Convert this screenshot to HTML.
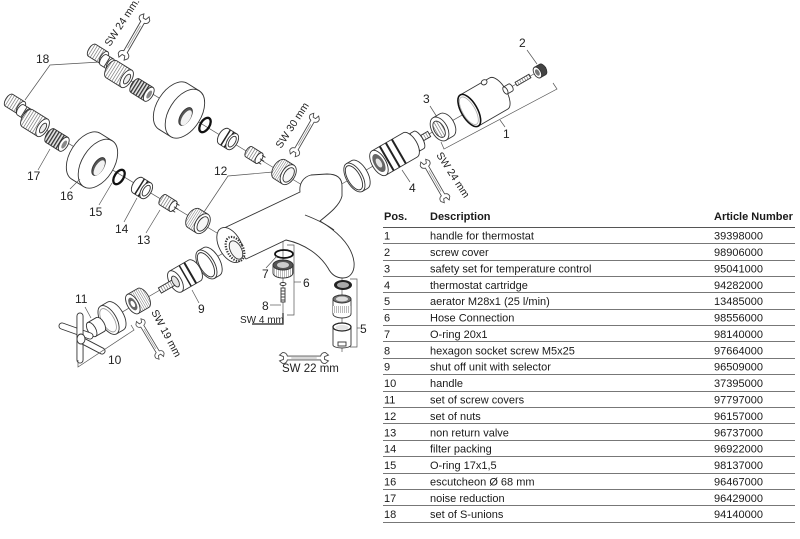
<!DOCTYPE html>
<html><head><meta charset="utf-8"><style>
html,body{margin:0;padding:0;background:#fff;}
svg{display:block;}
.t{font-family:"Liberation Sans",Arial,sans-serif;font-size:11px;fill:#1a1a1a;}
.h{font-weight:bold;}
.n{font-family:"Liberation Sans",Arial,sans-serif;font-size:12px;fill:#222;}
.sw{font-family:"Liberation Sans",Arial,sans-serif;font-size:10.5px;fill:#222;}
.ln{stroke:#555;stroke-width:0.7;fill:none;}
.p{stroke:#333;stroke-width:0.9;}
.rl{stroke:#777;stroke-width:1.1;}
.wr{fill:#fff;stroke:#444;stroke-width:0.9;}
</style></head><body>
<svg width="800" height="539" viewBox="0 0 800 539" xmlns="http://www.w3.org/2000/svg">
<defs>
<pattern id="thr" width="2.6" height="40" patternUnits="userSpaceOnUse"><rect width="2.6" height="40" fill="#fff"/><rect width="0.6" height="40" fill="#666"/></pattern>
<pattern id="cg" width="3" height="40" patternUnits="userSpaceOnUse"><rect width="3" height="40" fill="#e4e4e4"/><rect width="1.3" height="40" fill="#333"/></pattern>
<pattern id="kn" width="2" height="40" patternUnits="userSpaceOnUse"><rect width="2" height="40" fill="#fff"/><rect width="0.5" height="40" fill="#777"/></pattern>
<g id="suTop"><path class="p" d="M-7,-7H7V7H-7A3.5,7 0 0 1 -7,-7Z" fill="url(#thr)"/><ellipse class="p" cx="7" rx="3.5" ry="7" fill="#fff"/></g>
<g id="suHex"><path class="p" d="M-4,-6H4V6H-4A3,6 0 0 1 -4,-6Z" fill="#fff"/><line class="p" x1="0" y1="-6" x2="0" y2="6"/><ellipse class="p" cx="4" rx="3" ry="6" fill="#fff"/></g>
<g id="suLow"><path class="p" d="M-9,-10H9V10H-9A5,10 0 0 1 -9,-10Z" fill="url(#thr)"/><ellipse class="p" cx="9" rx="5" ry="10" fill="#fff"/><ellipse class="p" cx="9.5" rx="2.5" ry="5.5" fill="#eee"/></g>
<g id="cage"><path class="p" d="M-8,-8H8V8H-8A4,8 0 0 1 -8,-8Z" fill="url(#cg)"/><ellipse class="p" cx="8" rx="4" ry="8" fill="#fff"/><ellipse cx="8.5" rx="2" ry="4.5" fill="#888"/></g>
<g id="esc"><path class="p" d="M-7,-27H7V27H-7A16,27 0 0 1 -7,-27Z" fill="#fff"/><ellipse class="p" cx="7" rx="16" ry="27" fill="#fff"/><ellipse class="p" cx="9" cy="2" rx="5" ry="10" fill="#555"/><ellipse cx="10.3" cy="2.8" rx="3.9" ry="8.6" fill="#f2f2f2"/></g>
<g id="oring"><ellipse rx="4.5" ry="8" fill="none" stroke="#111" stroke-width="2.3"/></g>
<g id="filt"><path class="p" d="M-5,-9H5V9H-5A5,9 0 0 1 -5,-9Z" fill="#fff"/><rect x="-3.5" y="-9" width="1.5" height="18" fill="#222"/><rect x="0.5" y="-9" width="1.5" height="18" fill="#222"/><ellipse class="p" cx="5" rx="5" ry="9" fill="#fff"/><ellipse class="p" cx="5" rx="3" ry="6" fill="none"/></g>
<g id="valve"><path class="p" d="M-6,-6H6V6H-6A3,6 0 0 1 -6,-6Z" fill="url(#thr)"/><ellipse class="p" cx="6" rx="3" ry="6" fill="#fff"/><path class="p" d="M7,-4H11M7,0H12M7,4H11" fill="none"/></g>
<g id="nut"><path class="p" d="M-5,-11H5V11H-5A6.6,11 0 0 1 -5,-11Z" fill="url(#kn)"/><ellipse class="p" cx="5" rx="6.6" ry="11" fill="#fff"/><ellipse class="p" cx="5.5" rx="4.5" ry="8" fill="#f6f6f6"/></g>
<g id="ring"><path class="p" d="M-3,-16H3V16H-3A8,16 0 0 1 -3,-16Z" fill="#fff"/><ellipse class="p" cx="3" rx="8" ry="16" fill="#fff"/><ellipse class="p" cx="3.5" rx="6.2" ry="13.5" fill="#fff"/></g>
<g id="cart">
<rect class="p" x="-36" y="-3" width="13" height="6" fill="url(#thr)"/>
<path class="p" d="M-24,-10H-12V10H-24A4,10 0 0 1 -24,-10Z" fill="#fff"/>
<rect x="-20" y="-10" width="1.5" height="20" fill="#333"/>
<path class="p" d="M-14,-14H22V14H-14A7,14 0 0 1 -14,-14Z" fill="#fff"/>
<rect x="-2" y="-14" width="2" height="28" fill="#222"/>
<rect x="5" y="-14" width="2" height="28" fill="#222"/>
<rect x="12" y="-14" width="2" height="28" fill="#222"/>
<ellipse class="p" cx="22" rx="7" ry="14" fill="#fff"/>
<ellipse cx="22" rx="5" ry="10" fill="#666"/>
<ellipse cx="22" rx="2.5" ry="5" fill="#e4e4e4"/>
</g>
<g id="r3"><path class="p" d="M-4,-13H4V13H-4A7.8,13 0 0 1 -4,-13Z" fill="#fff"/><ellipse class="p" cx="4" rx="7.8" ry="13" fill="#fff"/><ellipse class="p" cx="4.5" rx="5" ry="9" fill="url(#thr)"/></g>
<g id="hdl"><path class="p" d="M-17,-18H17V18H-17A8,18 0 0 1 -17,-18Z" fill="#fff"/><ellipse class="p" cx="-10" cy="17" rx="3" ry="2.5" fill="#fff"/><ellipse cx="17" rx="8" ry="18" fill="#fff" stroke="#111" stroke-width="1.6"/><ellipse cx="17.5" rx="6.3" ry="15.5" fill="none" stroke="#aaa" stroke-width="0.8"/></g>
<g id="so">
<path class="p" d="M-11,-12H11V12H-11A6,12 0 0 1 -11,-12Z" fill="#fff"/>
<rect x="-7" y="-12" width="2" height="24" fill="#222"/>
<rect x="-1" y="-12" width="1.5" height="24" fill="#222"/>
<ellipse class="p" cx="11" rx="6" ry="12" fill="#fff"/>
<rect class="p" x="11" y="-3" width="18" height="6" fill="url(#thr)"/>
<ellipse class="p" cx="11" rx="3" ry="6" fill="#e4e4e4"/>
</g>
<g id="ad"><path class="p" d="M-6,-11H6V11H-6A5.5,11 0 0 1 -6,-11Z" fill="url(#kn)"/><ellipse class="p" cx="6" rx="5.5" ry="11" fill="#fff"/><ellipse cx="6" rx="3.5" ry="7" fill="#666"/><ellipse cx="6" rx="1.8" ry="3.5" fill="#fff"/></g>
<g id="cap"><path class="p" d="M-4,-16H4V16H-4A8,16 0 0 1 -4,-16Z" fill="#fff"/><ellipse class="p" cx="4" rx="8" ry="16" fill="#fff"/><ellipse cx="4.5" rx="6" ry="13" fill="none" stroke="#999" stroke-width="0.8"/></g>
<g id="neck"><path class="p" d="M-5,-8H5V8H-5A4,8 0 0 1 -5,-8Z" fill="#fff"/><ellipse class="p" cx="5" rx="4" ry="8" fill="#fff"/></g>
<g id="wrench"><path class="wr" d="M-17,-2H17Q18,-6 22,-5.5L25,-3L21,-1.5L21,1.5L25,3L22,5.5Q18,6 17,2H-17Q-18,6 -22,5.5L-25,3L-21,1.5L-21,-1.5L-25,-3L-22,-5.5Q-18,-6 -17,-2Z"/><line x1="-13" y1="0" x2="13" y2="0" stroke="#999" stroke-width="0.8"/></g>
</defs>

<!-- axis lines -->
<line class="ln" x1="100" y1="62" x2="302" y2="185"/>
<line class="ln" x1="18" y1="113" x2="222" y2="236"/>
<line class="ln" x1="340" y1="185" x2="546" y2="67"/>
<line class="ln" x1="100" y1="325" x2="232" y2="248"/>
<line class="ln" x1="283" y1="238" x2="283" y2="316"/>
<line class="ln" x1="342" y1="276" x2="342" y2="352"/>

<!-- body -->
<path class="p" fill="#fff" d="M222,229 L300,192 C299,184 303,177 311,175 L327,174 C337,174 342,178 342,186 L342,196 C340,205 330,213 320,221 C338,232 352,246 354,262 C355,272 350,278 343,278 C336,278 331,274 328,268 C320,255 305,244 286,240 L246,259 Z"/>
<path class="p" fill="none" d="M305,215 C318,220 326,224 334,230"/>
<ellipse class="p" cx="230" cy="245" rx="11" ry="19" transform="rotate(-28 230 245)" fill="#fff"/>
<ellipse cx="235" cy="249" rx="8" ry="13" transform="rotate(-28 235 249)" fill="#fff" stroke="#333" stroke-width="2.2" stroke-dasharray="1.3 1.3"/>
<ellipse class="p" cx="236" cy="250" rx="5.5" ry="10" transform="rotate(-28 236 250)" fill="#f6f6f6"/>

<!-- upper inlet row -->
<use href="#suTop" transform="translate(98,54) rotate(32)"/>
<use href="#suHex" transform="translate(107,62) rotate(32)"/>
<use href="#suLow" transform="translate(119,74) rotate(32)"/>
<use href="#cage" transform="translate(142,90) rotate(32)"/>
<use href="#esc" transform="translate(179,110) rotate(32)"/>
<use href="#oring" transform="translate(205,125) rotate(32)"/>
<use href="#filt" transform="translate(228,139) rotate(32)"/>
<use href="#valve" transform="translate(254,155) rotate(32)"/>
<use href="#nut" transform="translate(284,172) rotate(32)"/>

<!-- lower inlet row -->
<use href="#suTop" transform="translate(15,104) rotate(32)"/>
<use href="#suHex" transform="translate(24,112) rotate(32)"/>
<use href="#suLow" transform="translate(35,123) rotate(32)"/>
<use href="#cage" transform="translate(57,140) rotate(32)"/>
<use href="#esc" transform="translate(92,160) rotate(32)"/>
<use href="#oring" transform="translate(119,177) rotate(32)"/>
<use href="#filt" transform="translate(142,188) rotate(32)"/>
<use href="#valve" transform="translate(168,203) rotate(32)"/>
<use href="#nut" transform="translate(198,221) rotate(32)"/>

<!-- thermostat side -->
<use href="#ring" transform="translate(357,176) rotate(150)"/>
<use href="#cart" transform="translate(398,152) rotate(150)"/>
<use href="#r3" transform="translate(443,127) rotate(150)"/>
<use href="#hdl" transform="translate(484,102) rotate(150)"/>
<g transform="translate(508,89) rotate(150)"><path class="p" d="M-3,-4H3V4H-3A2,4 0 0 1 -3,-4Z" fill="#fff"/><ellipse class="p" cx="3" rx="2" ry="4" fill="#fff"/></g>
<g transform="translate(523,80) rotate(150)"><rect class="p" x="-8" y="-2" width="16" height="4" fill="url(#thr)"/></g>
<g transform="translate(540,71) rotate(150)"><path class="p" d="M-3,-6H3V6H-3A3.5,6 0 0 1 -3,-6Z" fill="#444"/><ellipse class="p" cx="3" rx="3.5" ry="6" fill="#fff"/><ellipse cx="3" rx="2" ry="3.5" fill="#777"/></g>
<polyline class="ln" points="441,142 444,149 557,89 553,83"/>

<!-- shut-off side -->
<use href="#ring" transform="translate(209,263) rotate(150)"/>
<use href="#so" transform="translate(185,276) rotate(150)"/>
<use href="#ad" transform="translate(138,301) rotate(150)"/>
<use href="#cap" transform="translate(112,318) rotate(150)"/>
<use href="#neck" transform="translate(96,327) rotate(150)"/>
<g stroke-linecap="round">
<line x1="62" y1="326" x2="90" y2="336" stroke="#333" stroke-width="7"/>
<line x1="62" y1="326" x2="90" y2="336" stroke="#fff" stroke-width="5.2"/>
<line x1="80" y1="316" x2="80" y2="360" stroke="#333" stroke-width="7"/>
<line x1="80" y1="316" x2="80" y2="360" stroke="#fff" stroke-width="5.2"/>
<line x1="81" y1="340" x2="102" y2="351" stroke="#333" stroke-width="7"/>
<line x1="81" y1="340" x2="102" y2="351" stroke="#fff" stroke-width="5.2"/>
</g>
<ellipse class="p" cx="81" cy="339" rx="4" ry="5" fill="#fff"/>
<polyline class="ln" points="78,360 78,367 134,330 131,325"/>

<!-- hose connection 6 -->
<ellipse cx="284" cy="254" rx="9" ry="4" fill="none" stroke="#111" stroke-width="1.8"/>
<path class="p" d="M273,265 V273 A10,5 0 0 0 293,273 V265 Z" fill="url(#kn)"/>
<ellipse class="p" cx="283" cy="265" rx="10" ry="5" fill="#555"/>
<ellipse cx="283" cy="265" rx="6" ry="3" fill="#ccc"/>
<ellipse class="p" cx="283" cy="284" rx="3" ry="1.5" fill="#fff"/>
<rect class="p" x="281" y="288" width="4" height="14" fill="#fff"/>
<path d="M281,291H285M281,294H285M281,297H285M281,300H285" stroke="#444" stroke-width="0.9"/>
<polyline class="ln" points="287,245 294,245 294,315 287,315"/>
<line class="ln" x1="294" y1="282" x2="301" y2="282"/>
<path d="M283,313 V324 H252" fill="none" stroke="#444" stroke-width="1.4"/>

<!-- aerator 5 -->
<ellipse cx="343" cy="285" rx="9" ry="5" fill="#222"/>
<ellipse cx="343" cy="285" rx="6" ry="3" fill="#aaa"/>
<path class="p" d="M333,299 V314 A9,4 0 0 0 351,314 V299 Z" fill="#fff"/>
<rect x="333" y="306" width="18" height="7" fill="url(#kn)"/>
<ellipse class="p" cx="342" cy="299" rx="9" ry="4" fill="#777"/>
<ellipse cx="342" cy="299" rx="6" ry="2.5" fill="#ddd"/>
<path class="p" d="M333,327 V345 A9,3 0 0 0 351,345 V327 Z" fill="#fff"/>
<ellipse cx="342" cy="327" rx="9" ry="4" fill="#fff" stroke="#222" stroke-width="1.3"/>
<ellipse cx="342" cy="327.5" rx="6.5" ry="2.5" fill="#e4e4e4"/>
<rect class="p" x="338" y="342" width="8" height="4" fill="#fff"/>
<polyline class="ln" points="350,279 357,279 357,347 350,347"/>
<line class="ln" x1="357" y1="328" x2="360" y2="328"/>

<!-- wrenches -->
<use href="#wrench" transform="translate(134,37) rotate(-60)"/>
<use href="#wrench" transform="translate(304.5,135) rotate(-60) scale(0.94)"/>
<use href="#wrench" transform="translate(435,181) rotate(60) scale(0.94)"/>
<use href="#wrench" transform="translate(150,339) rotate(59) scale(0.88)"/>
<use href="#wrench" transform="translate(304,358) scale(0.98)"/>

<text class="sw" transform="translate(110,47) rotate(-57)">SW 24 mm.</text>
<text class="sw" transform="translate(281,149) rotate(-57)">SW 30 mm</text>
<text class="sw" transform="translate(436,155) rotate(57)">SW 24 mm</text>
<text class="sw" transform="translate(151,312) rotate(62)">SW 19 mm</text>
<text class="sw" x="240" y="323" style="font-size:10px">SW 4 mm</text>
<text class="sw" x="282" y="372" style="font-size:11.5px">SW 22 mm</text>

<!-- leaders -->
<path class="ln" d="M100,62 L50,65 L25,100"/>
<line class="ln" x1="38" y1="170" x2="50" y2="149"/>
<line class="ln" x1="70" y1="189" x2="80" y2="179"/>
<line class="ln" x1="99" y1="205" x2="112" y2="183"/>
<line class="ln" x1="124" y1="222" x2="137" y2="198"/>
<line class="ln" x1="146" y1="233" x2="160" y2="210"/>
<path class="ln" d="M273,172 L228,176 L204,212"/>
<line class="ln" x1="527" y1="50" x2="537" y2="64"/>
<line class="ln" x1="430" y1="106" x2="437" y2="117"/>
<line class="ln" x1="500" y1="120" x2="505" y2="127"/>
<line class="ln" x1="402" y1="170" x2="410" y2="182"/>
<line class="ln" x1="266" y1="268" x2="277" y2="256"/>
<line class="ln" x1="270" y1="305" x2="281" y2="305"/>
<line class="ln" x1="85" y1="307" x2="91" y2="318"/>
<line class="ln" x1="192" y1="290" x2="199" y2="303"/>

<!-- labels -->
<text class="n" x="36" y="63">18</text>
<text class="n" x="27" y="180">17</text>
<text class="n" x="60" y="200">16</text>
<text class="n" x="89" y="216">15</text>
<text class="n" x="115" y="233">14</text>
<text class="n" x="137" y="244">13</text>
<text class="n" x="214" y="175">12</text>
<text class="n" x="519" y="47">2</text>
<text class="n" x="423" y="103">3</text>
<text class="n" x="503" y="138">1</text>
<text class="n" x="409" y="192">4</text>
<text class="n" x="198" y="313">9</text>
<text class="n" x="75" y="303">11</text>
<text class="n" x="108" y="364">10</text>
<text class="n" x="262" y="278">7</text>
<text class="n" x="262" y="310">8</text>
<text class="n" x="303" y="287">6</text>
<text class="n" x="360" y="333">5</text>

<!-- table -->
<text class="t h" x="384" y="220">Pos.</text>
<text class="t h" x="430" y="220">Description</text>
<text class="t h" x="714" y="220">Article Number</text>
<g class="rl">
<line x1="383" y1="227.5" x2="795" y2="227.5" stroke="#555"/>
<line x1="383" y1="243.5" x2="795" y2="243.5"/>
<line x1="383" y1="260.5" x2="795" y2="260.5"/>
<line x1="383" y1="276.5" x2="795" y2="276.5"/>
<line x1="383" y1="292.5" x2="795" y2="292.5"/>
<line x1="383" y1="309.5" x2="795" y2="309.5"/>
<line x1="383" y1="325.5" x2="795" y2="325.5"/>
<line x1="383" y1="341.5" x2="795" y2="341.5"/>
<line x1="383" y1="358.5" x2="795" y2="358.5"/>
<line x1="383" y1="374.5" x2="795" y2="374.5"/>
<line x1="383" y1="391.5" x2="795" y2="391.5"/>
<line x1="383" y1="407.5" x2="795" y2="407.5"/>
<line x1="383" y1="423.5" x2="795" y2="423.5"/>
<line x1="383" y1="440.5" x2="795" y2="440.5"/>
<line x1="383" y1="456.5" x2="795" y2="456.5"/>
<line x1="383" y1="473.5" x2="795" y2="473.5"/>
<line x1="383" y1="489.5" x2="795" y2="489.5"/>
<line x1="383" y1="505.5" x2="795" y2="505.5"/>
<line x1="383" y1="522.5" x2="795" y2="522.5"/>
</g>
<g class="t">
<text x="384" y="239.6">1</text><text x="430" y="239.6">handle for thermostat</text><text x="714" y="239.6">39398000</text>
<text x="384" y="256">2</text><text x="430" y="256">screw cover</text><text x="714" y="256">98906000</text>
<text x="384" y="272.4">3</text><text x="430" y="272.4">safety set for temperature control</text><text x="714" y="272.4">95041000</text>
<text x="384" y="288.8">4</text><text x="430" y="288.8">thermostat cartridge</text><text x="714" y="288.8">94282000</text>
<text x="384" y="305.2">5</text><text x="430" y="305.2">aerator M28x1 (25 l/min)</text><text x="714" y="305.2">13485000</text>
<text x="384" y="321.6">6</text><text x="430" y="321.6">Hose Connection</text><text x="714" y="321.6">98556000</text>
<text x="384" y="337.9">7</text><text x="430" y="337.9">O-ring 20x1</text><text x="714" y="337.9">98140000</text>
<text x="384" y="354.3">8</text><text x="430" y="354.3">hexagon socket screw M5x25</text><text x="714" y="354.3">97664000</text>
<text x="384" y="370.7">9</text><text x="430" y="370.7">shut off unit with selector</text><text x="714" y="370.7">96509000</text>
<text x="384" y="387.1">10</text><text x="430" y="387.1">handle</text><text x="714" y="387.1">37395000</text>
<text x="384" y="403.5">11</text><text x="430" y="403.5">set of screw covers</text><text x="714" y="403.5">97797000</text>
<text x="384" y="419.9">12</text><text x="430" y="419.9">set of nuts</text><text x="714" y="419.9">96157000</text>
<text x="384" y="436.3">13</text><text x="430" y="436.3">non return valve</text><text x="714" y="436.3">96737000</text>
<text x="384" y="452.7">14</text><text x="430" y="452.7">filter packing</text><text x="714" y="452.7">96922000</text>
<text x="384" y="469.1">15</text><text x="430" y="469.1">O-ring 17x1,5</text><text x="714" y="469.1">98137000</text>
<text x="384" y="485.4">16</text><text x="430" y="485.4">escutcheon Ø 68 mm</text><text x="714" y="485.4">96467000</text>
<text x="384" y="501.8">17</text><text x="430" y="501.8">noise reduction</text><text x="714" y="501.8">96429000</text>
<text x="384" y="518.2">18</text><text x="430" y="518.2">set of S-unions</text><text x="714" y="518.2">94140000</text>
</g>
</svg>
</body></html>
